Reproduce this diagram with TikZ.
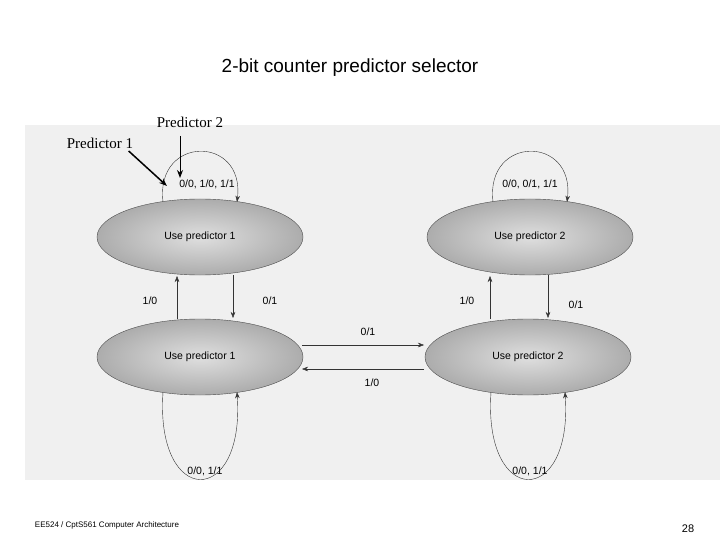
\documentclass[tikz,border=0pt]{standalone}
\usepackage{fontspec}
\setmainfont{Liberation Sans}
\newfontfamily\timesfont{Liberation Serif}
\usetikzlibrary{arrows.meta,shapes.geometric}
\tikzset{
  state/.style={ellipse, draw=gray!60!black, inner color=gray!25, outer color=gray!65, minimum width=206pt, minimum height=76pt, font=\fontsize{10.5}{12}\selectfont},
  trans/.style={draw=black!80, -{Stealth[length=6pt]}},
  lab/.style={font=\fontsize{10.5}{12}\selectfont}
}
\begin{document}
\begin{tikzpicture}[x=1pt,y=-1pt]
  \useasboundingbox (0,0) rectangle (720,540);
  \fill[gray!12] (25,125) rectangle (720,480);

  %title:
  \node[font=\fontsize{19}{22}\selectfont] (title) at (350,68) {2-bit counter predictor selector};

  %states:
  \node[state] (p1a) at (200,237) {Use predictor 1};
  \node[state] (p2a) at (530,237) {Use predictor 2};
  \node[state] (p1b) at (200,357) {Use predictor 1};
  \node[state] (p2b) at (528,357) {Use predictor 2};

  %self loops:
  \draw[trans] ([shift={(-37pt,-3pt)}]p1a.north) .. controls (155,135) and (245,135) .. ([shift={(37pt,-3pt)}]p1a.north);
  \node[lab] (l1) at (207,184) {0/0, 1/0, 1/1};
  \draw[trans] ([shift={(-37pt,-3pt)}]p2a.north) .. controls (485,135) and (575,135) .. ([shift={(37pt,-3pt)}]p2a.north);
  \node[lab] (l2) at (530,184) {0/0, 0/1, 1/1};
  \draw[trans] ([shift={(-37pt,3pt)}]p1b.south) .. controls (155,508) and (245,508) .. ([shift={(37pt,3pt)}]p1b.south);
  \node[lab] (l3) at (205,471) {0/0, 1/1};
  \draw[trans] ([shift={(-37pt,3pt)}]p2b.south) .. controls (483,508) and (573,508) .. ([shift={(37pt,3pt)}]p2b.south);
  \node[lab] (l4) at (530,471) {0/0, 1/1};

  %vertical transitions:
  \draw[trans] (177,319) -- (177,276);
  \node[lab] (v1) at (150,301) {1/0};
  \draw[trans] (233,275) -- (233,318);
  \node[lab] (v2) at (270,301) {0/1};
  \draw[trans] (490,319) -- (490,276);
  \node[lab] (v3) at (467,301) {1/0};
  \draw[trans] (548,275) -- (548,318);
  \node[lab] (v4) at (576,305) {0/1};

  %horizontal transitions:
  \draw[trans] (302,345) -- (424,345);
  \node[lab] (h1) at (368,332) {0/1};
  \draw[trans] (424,369) -- (302,369);
  \node[lab] (h2) at (372,383) {1/0};

  %predictor labels:
  \node[font=\timesfont\fontsize{15}{17}\selectfont] (pr1) at (100,143) {Predictor 1};
  \node[font=\timesfont\fontsize{15}{17}\selectfont] (pr2) at (190,122) {Predictor 2};
  \draw[-{Stealth[length=8pt]}, line width=1.5pt] (pr1.east) ++(-8,8) -- (167,186);
  \draw[-{Stealth[length=8pt]}, line width=1pt] (180,136) -- (180,178);

  %footer:
  \node[font=\fontsize{8}{10}\selectfont] (foot) at (107,525) {EE524 / CptS561 Computer Architecture};
  \node[font=\fontsize{11}{13}\selectfont] (page) at (688,529) {28};
\end{tikzpicture}
\end{document}
